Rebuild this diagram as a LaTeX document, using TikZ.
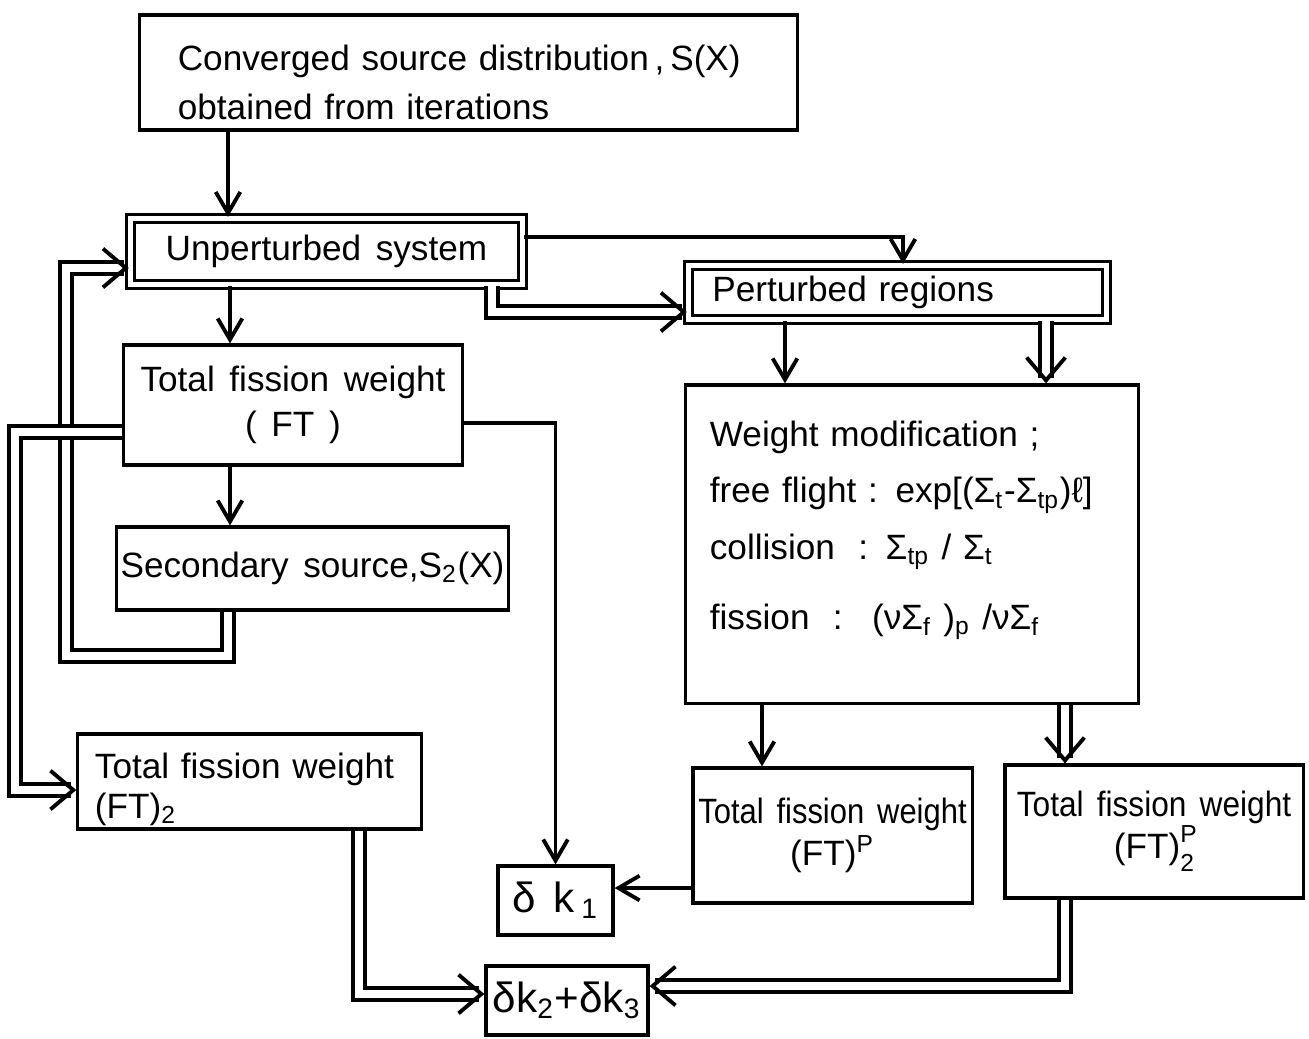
\documentclass[tikz,border=0pt]{standalone}
\usepackage{fontspec}
\setmainfont{Liberation Sans}[WordSpace=1.5]
\usetikzlibrary{arrows.meta}
\newcommand{\etroit}[2][0.88]{\scalebox{#1}[1]{#2}}
\begin{document}
\begin{tikzpicture}[x=0.01cm,y=-0.01cm]
\tikzset{bloc/.style={draw, line width=0.9pt, inner sep=0pt, font=\fontsize{10}{12}\selectfont},
dbloc/.style={bloc, double, double distance=1.4pt},
fleche/.style={line width=1.1pt, -{Straight Barb[length=6pt,width=7pt,line width'=1.1pt]}},
dfleche/.style={line width=1.1pt, double, double distance=2.4pt, -{Straight Barb[length=6.5pt,width=11pt,line width'=1.1pt]}}}
\path[fill=white] (0,0) rectangle (1309,1038);
\node[bloc, minimum width=6.57cm, minimum height=1.15cm, text width=5.81cm, text height=0.46cm, align=left, font=\fontsize{10}{14}\selectfont] (S) at (468.5,72.5) {Converged source distribution\,,\,S(X)\\obtained from iterations};
\node[dbloc, minimum width=3.92cm, minimum height=0.66cm] (U) at (326.5,251.5) {Unperturbed system};
\node[dbloc, minimum width=4.18cm, minimum height=0.54cm, text width=3.7cm, align=left] (P) at (897.5,292.5) {Perturbed regions};
\node[bloc, minimum width=3.38cm, minimum height=1.2cm, align=center, font=\fontsize{10}{13}\selectfont] (FT) at (293,405) {Total fission weight\\( FT )};
\node[bloc, minimum width=3.91cm, minimum height=0.83cm] (S2) at (312.5,568.5) {Secondary source,S\textsubscript{2}(X)};
\node[bloc, minimum width=3.43cm, minimum height=0.95cm, text width=3.09cm, text height=0.41cm, align=left, font=\fontsize{10}{11.5}\selectfont] (FT2) at (249.5,781.5) {Total fission weight\\(FT)\textsubscript{2}};
\node[bloc, minimum width=4.52cm, minimum height=3.18cm, text width=4.04cm, text depth=2.2cm, align=left] (W) at (912,544) {Weight modification ;\\[4pt]
free flight : exp[(Σ\textsubscript{t}-Σ\textsubscript{tp})ℓ]\\[4pt]
collision \ : Σ\textsubscript{tp} / Σ\textsubscript{t}\\[8pt]
fission \ : \ (νΣ\textsubscript{f} )\textsubscript{p} /νΣ\textsubscript{f}};
\node[bloc, minimum width=2.79cm, minimum height=1.35cm, align=center] (FTP) at (832.5,835.5) {\etroit{Total fission weight}\\(FT)\textsuperscript{P}};
\node[bloc, minimum width=2.98cm, minimum height=1.33cm, align=center] (FTP2) at (1154,831.5) {\etroit[0.9]{Total fission weight}\\(FT)\rlap{\raisebox{0.9ex}{\scriptsize P}}\raisebox{-0.7ex}{\scriptsize 2}};
\node[bloc, minimum width=1.15cm, minimum height=0.69cm, font=\fontsize{12}{14}\selectfont] (DK1) at (555.5,900.5) {δ k\,\textsubscript{1}};
\node[bloc, minimum width=1.62cm, minimum height=0.69cm, font=\fontsize{12}{14}\selectfont] (DK23) at (567,1000.5) {δk\textsubscript{2}+δk\textsubscript{3}};
\draw[fleche] (S.south -| 228,0) -- (U.north -| 228,0);
\draw[fleche] (U.south -| 230,0) -- (FT.north -| 230,0);
\draw[fleche] (FT.south -| 230,0) -- (S2.north -| 230,0);
\draw[dfleche] (S2.south -| 228,0) -- (228,656) -- (66,656) |- (U.west |- 0,268);
\draw[dfleche] (FT.west |- 0,432) -- (15,432) |- (FT2.west |- 0,790);
\draw[fleche] (FT.east |- 0,423) -| (DK1.north);
\draw[fleche] (U.east |- 0,237) -| (P.north -| 903,0);
\draw[dfleche] (U.south -| 492,0) |- (P.west |- 0,312);
\draw[fleche] (P.south -| 785,0) -- (W.north -| 785,0);
\draw[dfleche] (P.south -| 1046,0) -- (W.north -| 1046,0);
\draw[fleche] (W.south -| 762,0) -- (FTP.north -| 762,0);
\draw[dfleche] (W.south -| 1065,0) -- (FTP2.north -| 1065,0);
\draw[fleche] (FTP.west |- 0,888) -- (DK1.east |- 0,888);
\draw[dfleche] (FT2.south -| 359,0) |- (DK23.west |- 0,994);
\draw[dfleche] (FTP2.south -| 1065,0) |- (DK23.east |- 0,986);
\end{tikzpicture}
\end{document}
